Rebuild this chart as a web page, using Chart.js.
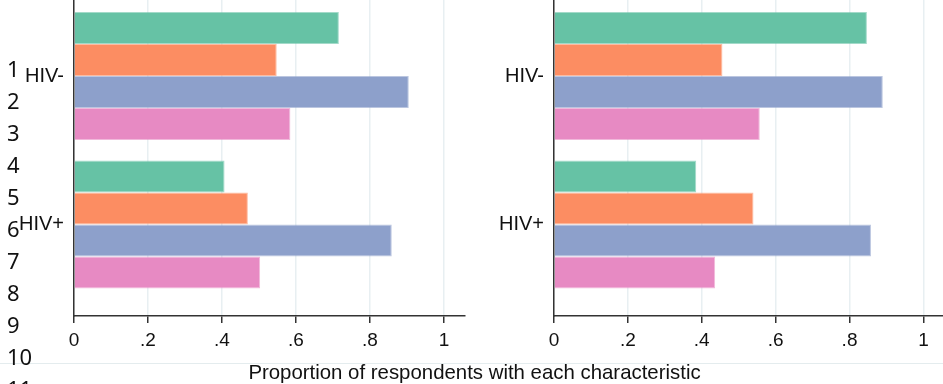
<!DOCTYPE html>
<html>
<head>
<meta charset="utf-8">
<script src="https://cdn.jsdelivr.net/npm/chart.js@4.4.1/dist/chart.umd.min.js"></script>
<style>
  html, body { margin: 0; padding: 0; background: #fff; overflow: hidden; }
  #wrap { position: relative; width: 943px; height: 384px; overflow: hidden; }
  canvas { position: absolute; top: -40px; }
  #left { left: 0; }
  #right { left: 474px; }
  .num { position: absolute; left: 7px; font-family: "Noto Sans", sans-serif; font-size: 22px; color: #111; line-height: 22px; }
  #rule { position: absolute; left: 0; top: 363px; width: 943px; height: 0; border-top: 1px solid #e4ecee; }
  #xtitle { position: absolute; left: 0; width: 949px; top: 361px; text-align: center;
            font-family: "Liberation Sans", Arial, sans-serif; font-size: 20.4px; color: #111; }
</style>
</head>
<body>
<div id="wrap">
  <div id="rule"></div>
  <canvas id="left" width="470" height="424"></canvas>
  <canvas id="right" width="469" height="424"></canvas>
  <div id="xtitle"></div>
</div>
<script>
// categories on the y axis, top to bottom
const categories = ['HIV-', 'HIV+'];
const categoryPos = [1, 2];

// four series, Set2 colours (fill, and the slightly paler outline)
const seriesColors = ['#66c2a5', '#fc8d62', '#8da0cb', '#e78ac3'];
const seriesEdges = ['rgba(102,194,165,0.6)', 'rgba(252,141,98,0.6)', 'rgba(141,160,203,0.6)', 'rgba(231,138,195,0.6)'];

// left panel values [HIV-, HIV+] per series
const leftGreen = [0.716, 0.407];
const leftOrange = [0.548, 0.470];
const leftBlue = [0.905, 0.859];
const leftPink = [0.585, 0.503];

// right panel values
const rightGreen = [0.847, 0.385];
const rightOrange = [0.456, 0.540];
const rightBlue = [0.890, 0.858];
const rightPink = [0.557, 0.436];

const tickValues = [0, 0.2, 0.4, 0.6, 0.8, 1];
const tickLabels = ['0', '.2', '.4', '.6', '.8', '1'];

const sideNumbers = ['1', '2', '3', '4', '5', '6', '7', '8', '9', '10', '11'];
const xTitle = 'Proportion of respondents with each characteristic';

document.getElementById('xtitle').textContent = xTitle;

const wrap = document.getElementById('wrap');
sideNumbers.forEach((n, i) => {
    const d = document.createElement('div');
    d.className = 'num';
    d.textContent = n;
    d.style.top = (57 + i * 32) + 'px';
    wrap.appendChild(d);
});

function makeDatasets(series) {
    return series.map((vals, s) => ({
        data: vals.map((v, i) => ({ x: v, y: categoryPos[i] })),
        backgroundColor: seriesColors[s],
        borderColor: seriesEdges[s],
        borderWidth: 1,
        categoryPercentage: 0.862,
        barPercentage: 1
    }));
}

function makeChart(id, series, yWidth, xMax, padRight) {
    const ctx = document.getElementById(id).getContext('2d');
    return new Chart(ctx, {
        type: 'bar',
        data: { datasets: makeDatasets(series) },
        options: {
            indexAxis: 'y',
            responsive: false,
            animation: false,
            layout: { padding: { left: 0, right: padRight, top: 40, bottom: 0 } },
            plugins: { legend: { display: false }, tooltip: { enabled: false } },
            scales: {
                y: {
                    type: 'linear',
                    offset: false,
                    reverse: true,
                    min: 0.488,
                    max: 2.616,
                    afterBuildTicks: scale => {
                        scale.ticks = categoryPos.map(v => ({ value: v }));
                    },
                    afterFit: scale => { scale.width = yWidth; },
                    grid: { display: false, drawTicks: false, offset: false },
                    border: { display: true, color: '#333', width: 1.5 },
                    ticks: {
                        padding: 10,
                        color: '#111',
                        font: { family: '"Liberation Sans", Arial, sans-serif', size: 20 },
                        callback: v => categories[categoryPos.indexOf(v)] || ''
                    }
                },
                x: {
                    type: 'linear',
                    min: 0,
                    max: xMax,
                    afterBuildTicks: scale => {
                        scale.ticks = tickValues.map(v => ({ value: v }));
                    },
                    afterFit: scale => { scale.height = 68; },
                    grid: { color: '#e8eff2', lineWidth: 1.5, tickColor: '#333', tickLength: 7 },
                    border: { display: true, color: '#333', width: 1.5 },
                    ticks: {
                        autoSkip: false,
                        maxRotation: 0,
                        padding: 6,
                        color: '#111',
                        font: { family: '"Liberation Sans", Arial, sans-serif', size: 19 },
                        callback: v => tickLabels[tickValues.indexOf(v)] ?? ''
                    }
                }
            }
        }
    });
}

makeChart('left', [leftGreen, leftOrange, leftBlue, leftPink], 74, 1.057, 5);
makeChart('right', [rightGreen, rightOrange, rightBlue, rightPink], 80, 1.053, 0);
</script>
</body>
</html>
